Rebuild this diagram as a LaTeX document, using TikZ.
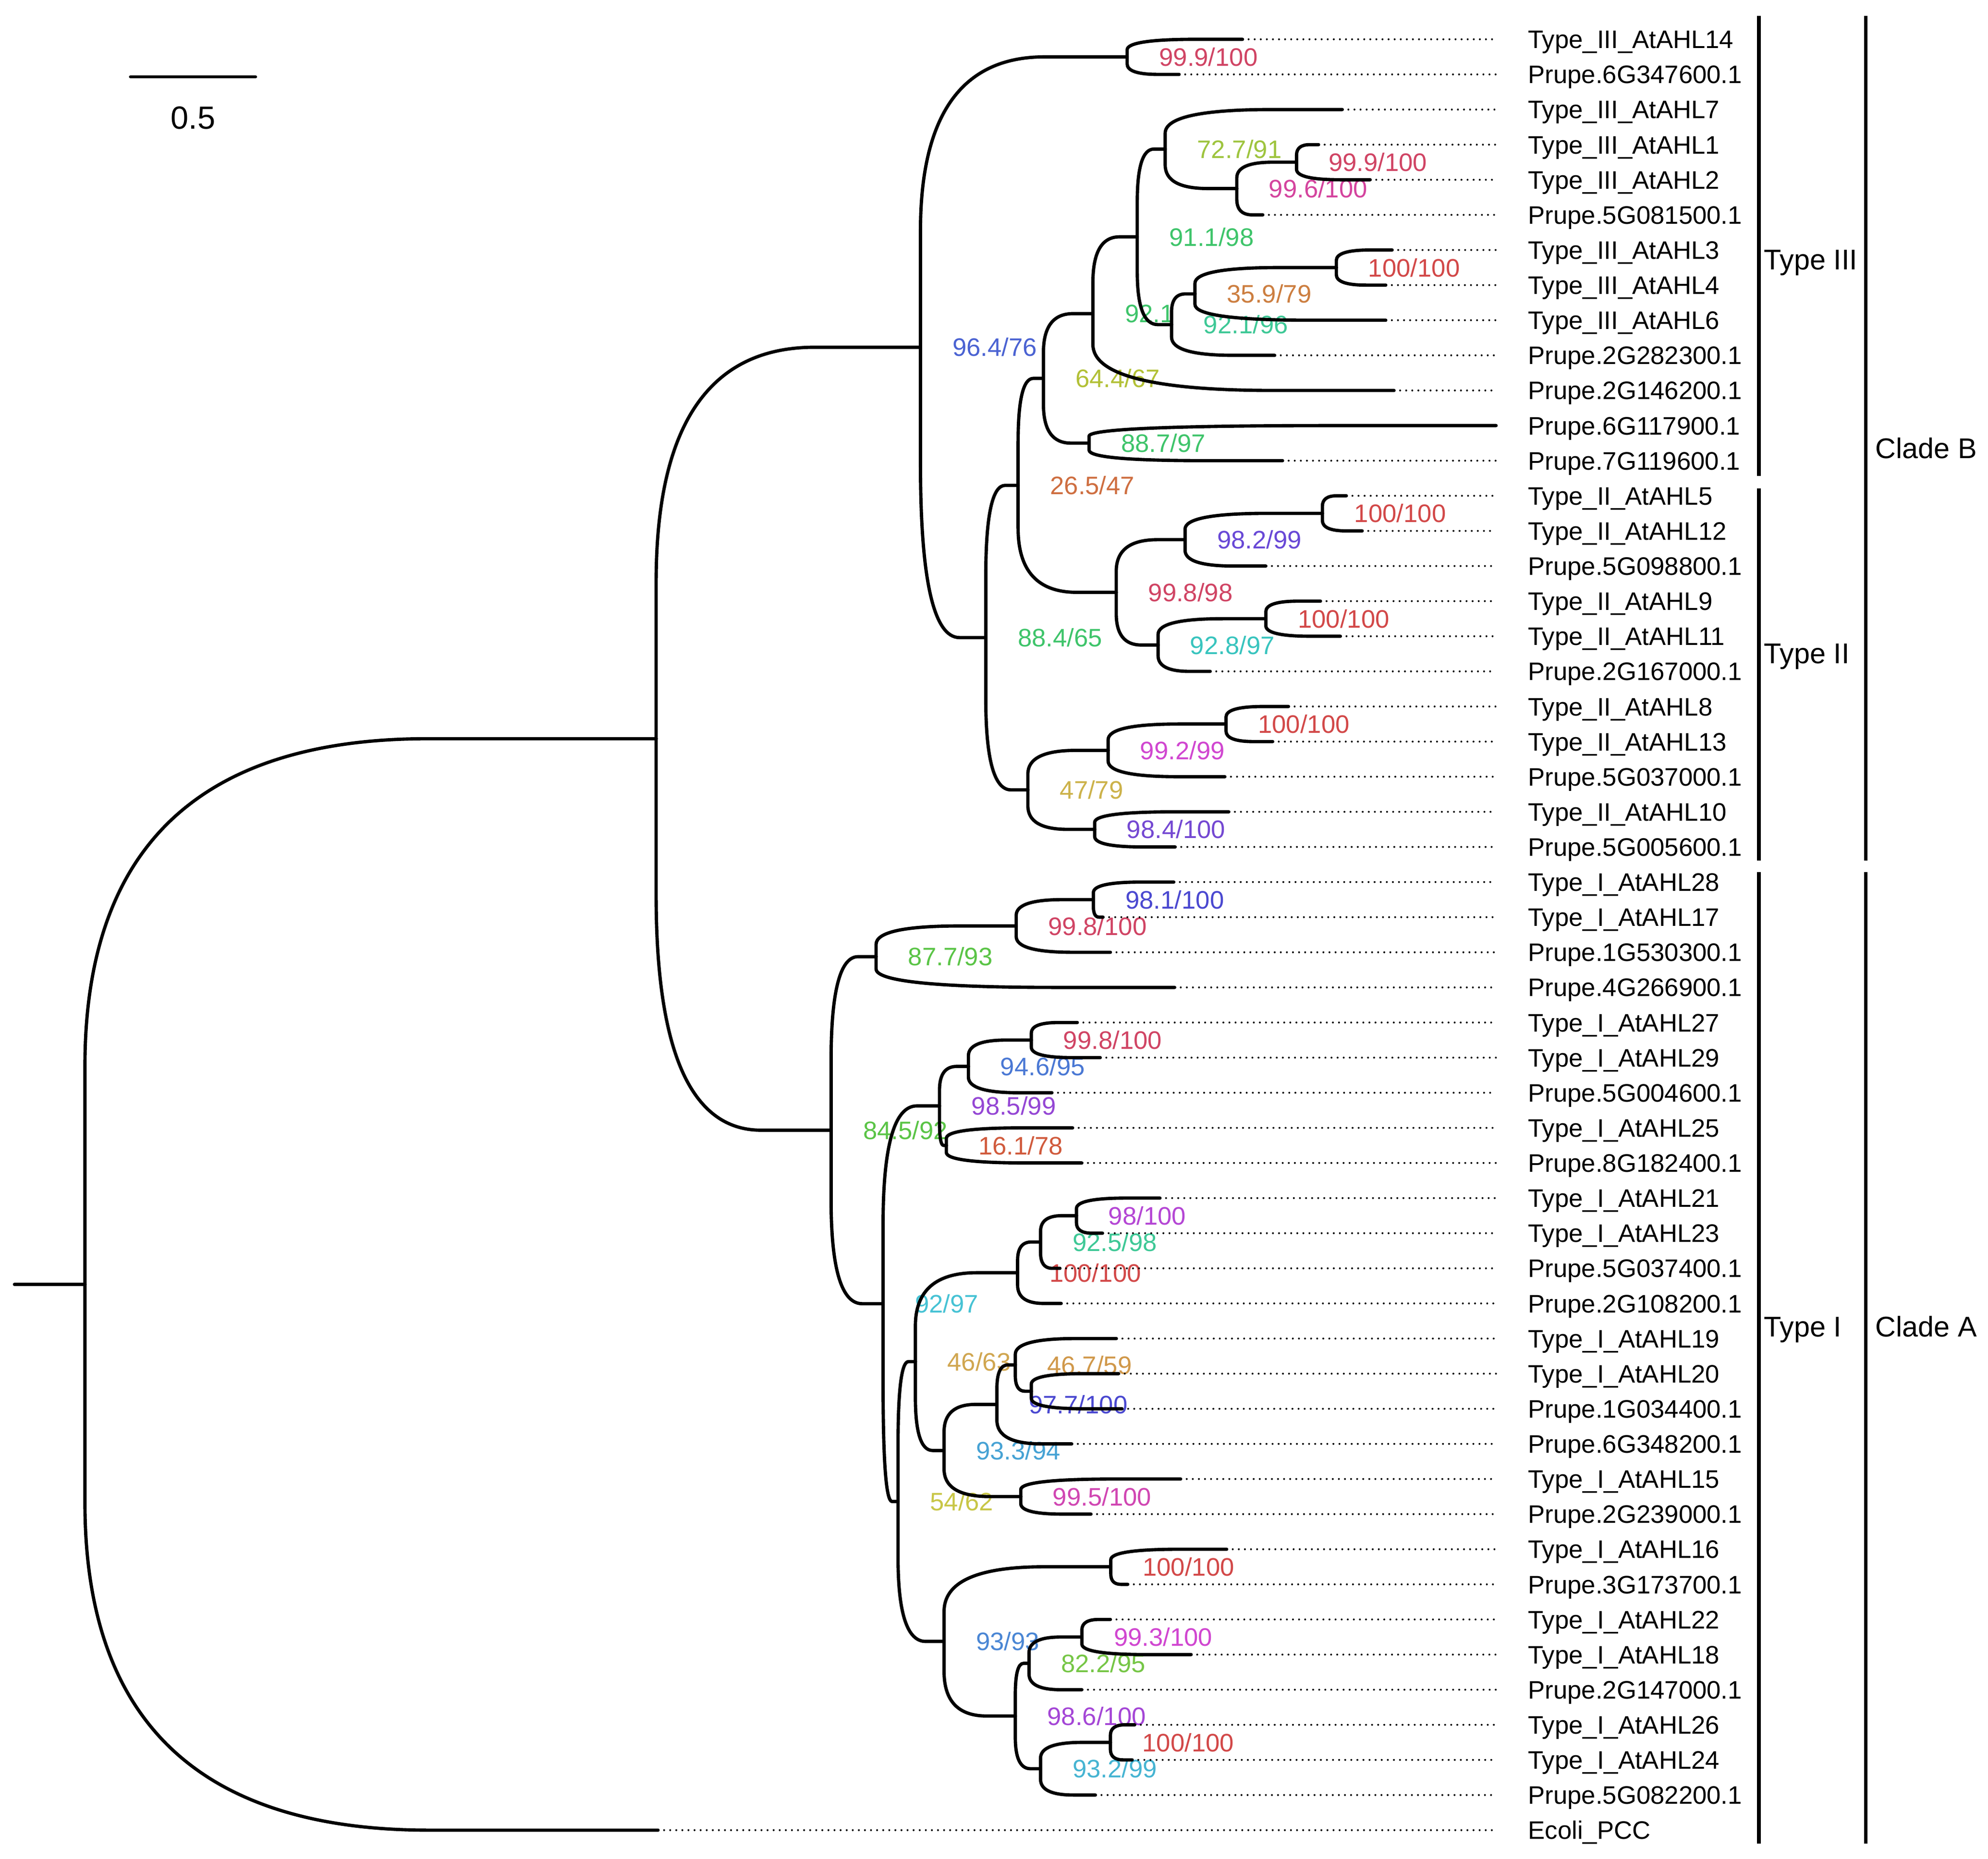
\documentclass[tikz,border=0pt]{standalone}
\usepackage{fontspec}
\setmainfont{Liberation Sans}
\usetikzlibrary{calc}
\pgfdeclarelayer{bg}
\pgfsetlayers{bg,main}

\definecolor{bscrimson}{HTML}{D04464}
\definecolor{bsred}{HTML}{D24848}
\definecolor{bspink}{HTML}{D4449E}
\definecolor{bsygreen}{HTML}{9EC43E}
\definecolor{bsgreen}{HTML}{3EC46A}
\definecolor{bsorange}{HTML}{CC7E40}
\definecolor{bsteal}{HTML}{3EC896}
\definecolor{bsolive}{HTML}{B2C036}
\definecolor{bsblue}{HTML}{4A62D2}
\definecolor{bsviolet}{HTML}{6848D6}
\definecolor{bscyan}{HTML}{38C4BE}
\definecolor{bsbrown}{HTML}{CE6E40}
\definecolor{bsmagenta}{HTML}{D046D0}
\definecolor{bsgold}{HTML}{CCB24A}
\definecolor{bspurple}{HTML}{7448D2}
\definecolor{bsindigo}{HTML}{4A48D0}
\definecolor{bslgreen}{HTML}{5AC446}
\definecolor{bsblueb}{HTML}{4A78D4}
\definecolor{bsorred}{HTML}{D05A3C}
\definecolor{bspurpleb}{HTML}{9446D4}
\definecolor{bsorchid}{HTML}{B446D4}
\definecolor{bsamber}{HTML}{D0984A}
\definecolor{bsamberb}{HTML}{D0A650}
\definecolor{bsrose}{HTML}{D046B2}
\definecolor{bssky}{HTML}{46A2D4}
\definecolor{bslime}{HTML}{76C646}
\definecolor{bscyanc}{HTML}{46B4D2}
\definecolor{bspurplec}{HTML}{A446D6}
\definecolor{bsbluec}{HTML}{4A86D4}
\definecolor{bsyellow}{HTML}{C8C646}
\definecolor{bscyanb}{HTML}{46C2D4}

\newcommand\tipfont{\fontsize{14.2}{17}\selectfont}
\newcommand\typefont{\fontsize{16}{19}\selectfont}
\newcommand\rulerfont{\fontsize{18}{21}\selectfont}

\tikzset{
  branchline/.style={line width=0.65mm, line cap=round, line join=round},
  leader/.style={line width=0.38mm, line cap=round, dash pattern=on 0pt off 1.2mm},
  tiplabel/.style={anchor=base west, inner sep=0pt, xshift=6.25mm, yshift=-1.79mm, font=\tipfont},
  bslabel/.style={anchor=base west, inner sep=0pt, xshift=6.25mm, yshift=-1.79mm, font=\tipfont},
  grouplabel/.style={anchor=base west, inner sep=0pt, yshift=-2.01mm, font=\typefont},
  groupbar/.style={line width=0.71mm}
}

% rounded branch from parent to child
\newcommand\branch[2]{%
  \draw[branchline] (#1) -- ($(#1)!0.4!(#1|-#2)$)
    .. controls ($(#1)!0.8!(#1|-#2)$) and ($(#1|-#2)!0.2!(#2)$) .. ($(#1|-#2)!0.6!(#2)$) -- (#2);}
% clade: name, x, upper child, lower child
\newcommand\clade[4]{%
  \coordinate (#1-m) at ($(#3)!0.5!(#4)$);
  \coordinate (#1) at (#2,0 |- #1-m);
  \branch{#1}{#3}\branch{#1}{#4}}
% support value at a clade
\newcommand\support[3]{%
  \begin{pgfonlayer}{bg}\node[bslabel, text=#3] (#1-bs) at (#1) {#2};\end{pgfonlayer}}

\begin{document}
\begin{tikzpicture}[x=0.25mm, y=-0.25mm]
\useasboundingbox (0,0) rectangle (1568,1466.1);

% scale bar
\coordinate (sb-l) at (103,60.6);
\coordinate (sb-r) at (201.5,60.6);
\draw[branchline] (sb-l) -- (sb-r);
\node[font=\rulerfont, anchor=base, inner sep=0pt] (sb-lab) at (152.2,101.6) {0.5};

% tips
\foreach \tx/\tipname [count=\i from 0] in {980/Type\_III\_AtAHL14, 930/Prupe.6G347600.1,
  1058.7/Type\_III\_AtAHL7, 1040/Type\_III\_AtAHL1, 1080.7/Type\_III\_AtAHL2, 996/Prupe.5G081500.1,
  1098/Type\_III\_AtAHL3, 1093/Type\_III\_AtAHL4, 1093/Type\_III\_AtAHL6, 1005.4/Prupe.2G282300.1,
  1099.5/Prupe.2G146200.1, 1180/Prupe.6G117900.1, 1011.6/Prupe.7G119600.1,
  1061.9/Type\_II\_AtAHL5, 1074.4/Type\_II\_AtAHL12, 998.4/Prupe.5G098800.1,
  1041.5/Type\_II\_AtAHL9, 1057.2/Type\_II\_AtAHL11, 954.5/Prupe.2G167000.1,
  1016.3/Type\_II\_AtAHL8, 1003.8/Type\_II\_AtAHL13, 966.1/Prupe.5G037000.1,
  969.2/Type\_II\_AtAHL10, 926.9/Prupe.5G005600.1,
  925.8/Type\_I\_AtAHL28, 870/Type\_I\_AtAHL17, 875.8/Prupe.1G530300.1, 926.5/Prupe.4G266900.1,
  849.7/Type\_I\_AtAHL27, 867.8/Type\_I\_AtAHL29, 829.7/Prupe.5G004600.1,
  846/Type\_I\_AtAHL25, 853.3/Prupe.8G182400.1,
  914.9/Type\_I\_AtAHL21, 869.6/Type\_I\_AtAHL23, 836/Prupe.5G037400.1, 837/Prupe.2G108200.1,
  880.5/Type\_I\_AtAHL19, 882.3/Type\_I\_AtAHL20, 885/Prupe.1G034400.1, 845.3/Prupe.6G348200.1,
  931.2/Type\_I\_AtAHL15, 860.5/Prupe.2G239000.1,
  967.5/Type\_I\_AtAHL16, 889.5/Prupe.3G173700.1,
  875.8/Type\_I\_AtAHL22, 939.5/Type\_I\_AtAHL18, 853.3/Prupe.2G147000.1,
  895/Type\_I\_AtAHL26, 893/Type\_I\_AtAHL24, 864/Prupe.5G082200.1, 519/Ecoli\_PCC}{
  \coordinate (t\i) at (\tx,{31+27.7*\i});
  \coordinate (e\i) at (1180,{31+27.7*\i});
  \draw[leader] (t\i) -- (e\i);
  \node[tiplabel] (l\i) at (e\i) {\tipname};
}

% clade B
\clade{c889}{889}{t0}{t1} \support{c889}{99.9/100}{bscrimson}
\clade{c1023}{1022.6}{t3}{t4} \support{c1023}{99.9/100}{bscrimson}
\clade{c975}{975.5}{c1023}{t5} \support{c975}{99.6/100}{bspink}
\clade{c919}{919}{t2}{c975} \support{c919}{72.7/91}{bsygreen}
\clade{c1054}{1054}{t6}{t7} \support{c1054}{100/100}{bsred}
\clade{c942}{942.5}{c1054}{t8} \support{c942}{35.9/79}{bsorange}
\clade{c924}{924}{c942}{t9} \support{c924}{92.1/96}{bsteal}
\clade{c897}{897}{c919}{c924} \support{c897}{91.1/98}{bsgreen}
\clade{c862}{862}{c897}{t10} \support{c862}{92.1}{bsgreen}
\clade{c859}{859}{t11}{t12} \support{c859}{88.7/97}{bsgreen}
\clade{c823}{823}{c862}{c859} \support{c823}{64.4/67}{bsolive}
\clade{c1043}{1043}{t13}{t14} \support{c1043}{100/100}{bsred}
\clade{c935}{934.7}{c1043}{t15} \support{c935}{98.2/99}{bsviolet}
\clade{c998}{998.4}{t16}{t17} \support{c998}{100/100}{bsred}
\clade{c913}{913.4}{c998}{t18} \support{c913}{92.8/97}{bscyan}
\clade{c880}{880.4}{c935}{c913} \support{c880}{99.8/98}{bscrimson}
\clade{c803}{803}{c823}{c880} \support{c803}{26.5/47}{bsbrown}
\clade{c967}{967}{t19}{t20} \support{c967}{100/100}{bsred}
\clade{c874}{874}{c967}{t21} \support{c874}{99.2/99}{bsmagenta}
\clade{c863}{863.4}{t22}{t23} \support{c863}{98.4/100}{bspurple}
\clade{c811}{810.7}{c874}{c863} \support{c811}{47/79}{bsgold}
\clade{c777}{777.5}{c803}{c811} \support{c777}{88.4/65}{bsgreen}
\clade{cladeB}{726}{c889}{c777} \support{cladeB}{96.4/76}{bsblue}

% clade A
\clade{a862}{862.4}{t24}{t25} \support{a862}{98.1/100}{bsindigo}
\clade{a801}{801.5}{a862}{t26} \support{a801}{99.8/100}{bscrimson}
\clade{a691}{691}{a801}{t27} \support{a691}{87.7/93}{bslgreen}
\clade{a813}{813.4}{t28}{t29} \support{a813}{99.8/100}{bscrimson}
\clade{a764}{763.8}{a813}{t30} \support{a764}{94.6/95}{bsblueb}
\clade{a746}{746.4}{t31}{t32} \support{a746}{16.1/78}{bsorred}
\clade{a741}{741}{a764}{a746} \support{a741}{98.5/99}{bspurpleb}
\clade{a849}{849}{t33}{t34} \support{a849}{98/100}{bsorchid}
\clade{a821}{820.7}{a849}{t35} \support{a821}{92.5/98}{bsteal}
\clade{a803}{802.6}{a821}{t36} \support{a803}{100/100}{bsred}
\clade{a814}{813.4}{t38}{t39}
\clade{a800}{800.8}{t37}{a814} \support{a800}{46.7/59}{bsamber}
\clade{a786}{786.3}{a800}{t40} \support{a786}{97.7/100}{bsindigo}
\clade{a805}{805.1}{t41}{t42} \support{a805}{99.5/100}{bsrose}
\clade{a745}{744.6}{a786}{a805} \support{a745}{93.3/94}{bssky}
\clade{a722}{722}{a803}{a745} \support{a722}{46/63}{bsamberb}
\clade{a876}{876.1}{t43}{t44} \support{a876}{100/100}{bsred}
\clade{a853}{853.3}{t45}{t46} \support{a853}{99.3/100}{bsmagenta}
\clade{a812}{811.6}{a853}{t47} \support{a812}{82.2/95}{bslime}
\clade{a875}{875.8}{t48}{t49} \support{a875}{100/100}{bsred}
\clade{a820}{820.7}{a875}{t50} \support{a820}{93.2/99}{bscyanc}
\clade{a799}{800.8}{a812}{a820} \support{a799}{98.6/100}{bspurplec}
\clade{a744}{744.6}{a876}{a799} \support{a744}{93/93}{bsbluec}
\clade{a708}{708.3}{a722}{a744} \support{a708}{54/62}{bsyellow}
\clade{a696}{696.5}{a741}{a708} \support{a696}{92/97}{bscyanb}
\clade{cladeA}{655.5}{a691}{a696} \support{cladeA}{84.5/92}{bslgreen}

% root
\clade{cAB}{517.5}{cladeB}{cladeA}
\clade{root}{67}{cAB}{t51}
\coordinate (stub) at (11.4,0 |- root);
\draw[branchline] (stub) -- (root);

% group bars
\draw[groupbar] (1387.3,12.6) -- (1387.3,375.3);
\draw[groupbar] (1387.3,385.2) -- (1387.3,679);
\draw[groupbar] (1387.3,688) -- (1387.3,1454.5);
\draw[groupbar] (1471.6,12.6) -- (1471.6,679);
\draw[groupbar] (1471.6,688) -- (1471.6,1454.5);
\node[grouplabel] (lab-typeIII) at (1391,204.8) {Type III};
\node[grouplabel] (lab-typeII) at (1391,515.4) {Type II};
\node[grouplabel] (lab-typeI) at (1391,1046.5) {Type I};
\node[grouplabel] (lab-cladeB) at (1479,353.4) {Clade B};
\node[grouplabel] (lab-cladeA) at (1479,1046.5) {Clade A};
\end{tikzpicture}
\end{document}
